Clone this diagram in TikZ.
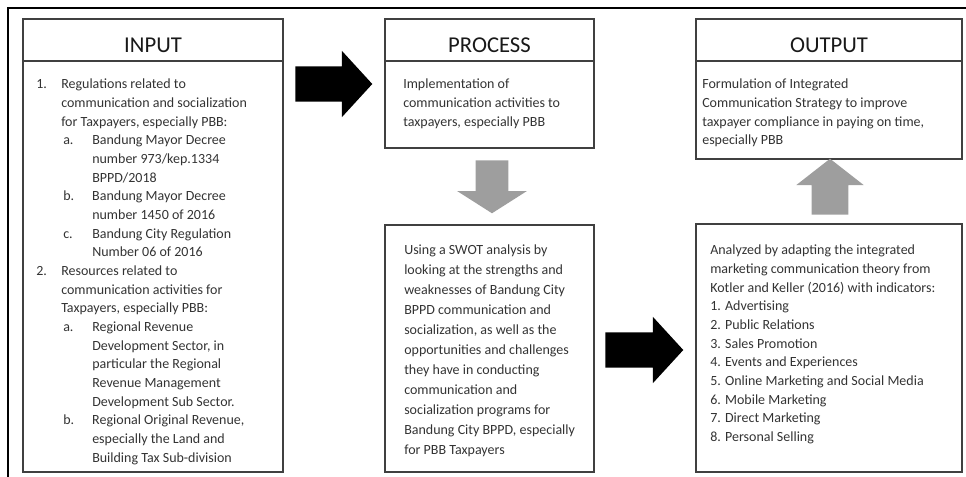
\documentclass[tikz,border=0pt]{standalone}
\usepackage{fontspec}
\setmainfont{Carlito}
\usetikzlibrary{positioning,shapes.arrows}

% list indents of the input box
\newcommand{\numlbl}[1]{\makebox[18.75pt][l]{#1}}
\newcommand{\numcont}{\hspace*{18.75pt}}
\newcommand{\letlbl}[1]{\hspace*{20.25pt}\makebox[21.75pt][l]{#1}}
\newcommand{\letcont}{\hspace*{42pt}}

\tikzset{
  frame/.style={draw=black!75,line width=1.1pt,outer sep=0pt},
  headbox/.style={frame,inner sep=0pt,text height=25.5pt,text depth=6pt,
    font=\fontsize{17}{20}\selectfont,text=black!90},
  bodybox/.style={frame,inner sep=0pt},
  bodytext/.style={inner sep=0pt,anchor=north west,align=left,text=black!80,
    font=\fontsize{10.5}{14}\selectfont},
  blockarrow/.style={single arrow,fill=black,inner sep=13.1pt,anchor=tail,
    single arrow head extend=11.6pt,single arrow tip angle=95},
  greyarrow/.style={single arrow,fill=black!38,anchor=tail}
}

\begin{document}
\begin{tikzpicture}[x=0.75pt,y=-0.75pt]
  \useasboundingbox (0,0) rectangle (966,477);
  \draw [line width=1.2pt] (966,8) -- (8,8) -- (8,477);

  % boxes
  \node[headbox,minimum width=195pt,anchor=north west] (inhead) at (23,19) {INPUT};
  \node[bodybox,minimum width=195pt,minimum height=308.25pt,below=0pt of inhead] (inbody) {};
  \node[headbox,minimum width=156.75pt,anchor=north west] (prochead) at (385,19) {PROCESS};
  \node[bodybox,minimum width=156.75pt,minimum height=65.25pt,below=0pt of prochead] (procbody) {};
  \node[bodybox,minimum width=156.75pt,minimum height=185.25pt,anchor=north west] (swot) at (385,225) {};
  \node[headbox,minimum width=199.5pt,anchor=north west] (outhead) at (696,19) {OUTPUT};
  \node[bodybox,minimum width=199.5pt,minimum height=73.5pt,below=0pt of outhead] (outbody) {};
  \node[bodybox,minimum width=199.5pt,minimum height=186pt,anchor=north west] (imc) at (696,224) {};

  % texts
  \node[bodytext] (intext) at (36,79) {%
    \numlbl{1.}Regulations related to\\
    \numcont communication and socialization\\
    \numcont for Taxpayers, especially PBB:\\
    \letlbl{a.}Bandung Mayor Decree\\
    \letcont number 973/kep.1334\\
    \letcont BPPD/2018\\
    \letlbl{b.}Bandung Mayor Decree\\
    \letcont number 1450 of 2016\\
    \letlbl{c.}Bandung City Regulation\\
    \letcont Number 06 of 2016\\
    \numlbl{2.}Resources related to\\
    \numcont communication activities for\\
    \numcont Taxpayers, especially PBB:\\
    \letlbl{a.}Regional Revenue\\
    \letcont Development Sector, in\\
    \letcont particular the Regional\\
    \letcont Revenue Management\\
    \letcont Development Sub Sector.\\
    \letlbl{b.}Regional Original Revenue,\\
    \letcont especially the Land and\\
    \letcont Building Tax Sub-division};
  \node[bodytext] (proctext) at (403,79) {Implementation of\\
    communication activities to\\
    taxpayers, especially PBB};
  \node[bodytext,font=\fontsize{10.5}{15}\selectfont] (swottext) at (404,245) {Using a SWOT analysis by\\
    looking at the strengths and\\
    weaknesses of Bandung City\\
    BPPD communication and\\
    socialization, as well as the\\
    opportunities and challenges\\
    they have in conducting\\
    communication and\\
    socialization programs for\\
    Bandung City BPPD, especially\\
    for PBB Taxpayers};
  \node[bodytext] (outtext) at (702,79) {Formulation of Integrated\\
    Communication Strategy to improve\\
    taxpayer compliance in paying on time,\\
    especially PBB};
  \node[bodytext] (imctext) at (710,245) {Analyzed by adapting the integrated\\
    marketing communication theory from\\
    Kotler and Keller (2016) with indicators:\\
    1. Advertising\\
    2. Public Relations\\
    3. Sales Promotion\\
    4. Events and Experiences\\
    5. Online Marketing and Social Media\\
    6. Mobile Marketing\\
    7. Direct Marketing\\
    8. Personal Selling};

  % arrows
  \node[blockarrow,minimum height=57.75pt] (arrin) at (295,84) {};
  \node[blockarrow,minimum height=58.5pt] (arrout) at (605,350) {};
  \node[greyarrow,shape border rotate=270,inner sep=12pt,minimum height=39.75pt,
    single arrow head extend=13.9pt,single arrow tip angle=115] (arrdown) at (492,160) {};
  \node[greyarrow,shape border rotate=90,inner sep=13.5pt,minimum height=42pt,
    single arrow head extend=11.6pt,single arrow tip angle=104] (arrup) at (830,215) {};
\end{tikzpicture}
\end{document}
